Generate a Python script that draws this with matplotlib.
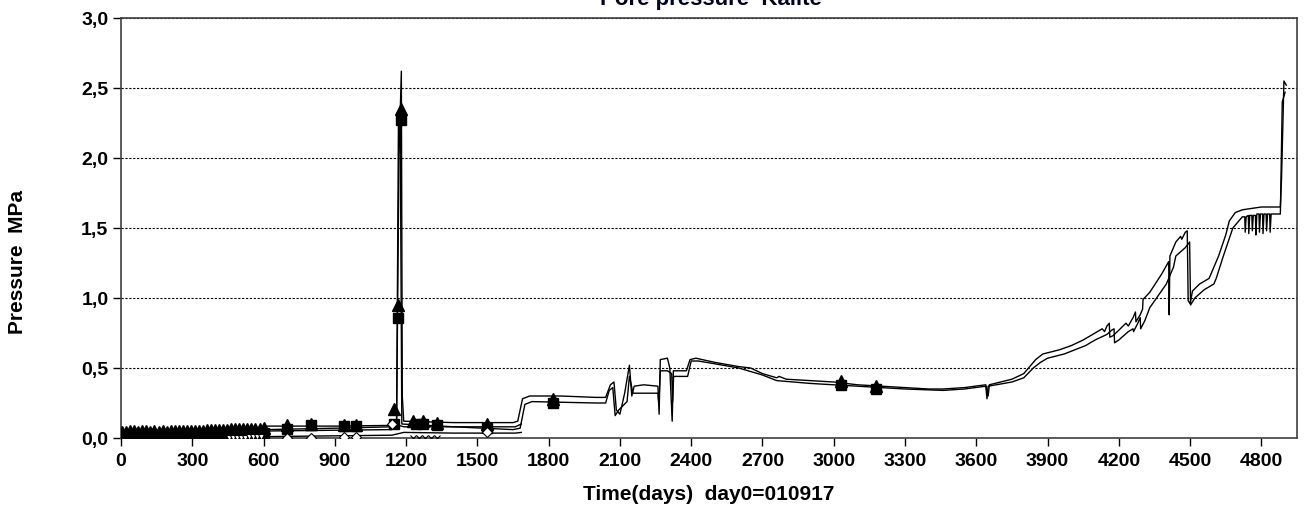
import matplotlib
matplotlib.use("Agg")
import matplotlib.pyplot as plt

plt.rcParams["font.family"] = ["Liberation Sans", "DejaVu Sans"]
plt.rcParams["font.weight"] = "bold"

# upper sensor line
s1_days = [0, 150, 300, 450, 600, 610, 900, 1140, 1160, 1170, 1180, 1184, 1190, 1400, 1650, 1670, 1690, 1720,
           1850, 2000, 2040, 2060, 2075, 2085, 2100, 2120, 2140, 2150, 2160, 2200, 2260, 2265, 2270, 2300, 2310,
           2320, 2325, 2380, 2395, 2420, 2500, 2600, 2650, 2700, 2760, 2770, 2800, 2900, 3000, 3100, 3200, 3300,
           3400, 3460, 3550, 3640, 3650, 3655, 3750, 3800, 3820, 3850, 3880, 3950, 4000, 4050, 4100, 4130, 4140,
           4150, 4160, 4162, 4175, 4200, 4230, 4240, 4260, 4270, 4272, 4290, 4300, 4302, 4330, 4380, 4410, 4412,
           4415, 4440, 4460, 4465, 4480, 4488, 4492, 4500, 4510, 4540, 4560, 4580, 4590, 4620, 4650, 4665, 4690,
           4720, 4800, 4880, 4885, 4895, 4905]
s1_mpa = [0.03, 0.035, 0.04, 0.05, 0.06, 0.085, 0.085, 0.09, 0.12, 2.0, 2.62, 0.3, 0.12, 0.11, 0.11, 0.12, 0.28, 0.30,
          0.30, 0.29, 0.29, 0.38, 0.40, 0.20, 0.17, 0.32, 0.52, 0.30, 0.37, 0.38, 0.37, 0.17, 0.56, 0.57, 0.50,
          0.12, 0.48, 0.48, 0.56, 0.57, 0.54, 0.51, 0.50, 0.46, 0.43, 0.44, 0.42, 0.41, 0.40, 0.38, 0.37, 0.36,
          0.35, 0.35, 0.36, 0.38, 0.30, 0.38, 0.42, 0.46, 0.50, 0.56, 0.60, 0.63, 0.66, 0.70, 0.75, 0.78, 0.76,
          0.80, 0.82, 0.72, 0.73, 0.77, 0.82, 0.80, 0.86, 0.90, 0.83, 0.88, 0.92, 0.99, 1.04, 1.17, 1.26, 0.88,
          1.30, 1.40, 1.44, 1.42, 1.47, 1.48, 0.98, 0.96, 1.05, 1.10, 1.12, 1.14, 1.18, 1.30, 1.45, 1.55, 1.61,
          1.63, 1.65, 1.65, 1.86, 2.55, 2.52]

# lower sensor line
s2_days = [0, 150, 300, 450, 600, 610, 900, 1140, 1160, 1168, 1175, 1182, 1400, 1650, 1680, 1700, 1730, 2000, 2040,
           2055, 2070, 2080, 2095, 2130, 2140, 2155, 2260, 2264, 2270, 2300, 2318, 2322, 2326, 2385, 2400, 2430,
           2500, 2600, 2700, 2760, 2900, 3000, 3100, 3200, 3300, 3460, 3550, 3640, 3645, 3650, 3750, 3800, 3840,
           3870, 3900, 3970, 4000, 4060, 4100, 4150, 4170, 4180, 4182, 4200, 4240, 4260, 4262, 4280, 4290, 4292,
           4310, 4330, 4400, 4430, 4440, 4480, 4498, 4502, 4520, 4560, 4600, 4610, 4640, 4680, 4720,
           4730, 4732, 4736, 4745, 4747, 4751, 4760, 4762, 4766, 4775, 4777, 4781, 4790, 4792, 4796, 4805, 4807,
           4811, 4820, 4822, 4826, 4835, 4837, 4841, 4880, 4888, 4900]
s2_mpa = [0.02, 0.025, 0.03, 0.035, 0.04, 0.06, 0.07, 0.08, 0.1, 2.3, 2.35, 0.1, 0.08, 0.06, 0.07, 0.24, 0.26, 0.25,
          0.25, 0.34, 0.36, 0.16, 0.2, 0.26, 0.44, 0.32, 0.32, 0.24, 0.48, 0.48, 0.46, 0.26, 0.44, 0.44, 0.55,
          0.55, 0.53, 0.50, 0.45, 0.41, 0.39, 0.38, 0.37, 0.36, 0.35, 0.34, 0.35, 0.37, 0.28, 0.37, 0.40, 0.43,
          0.50, 0.54, 0.57, 0.60, 0.62, 0.66, 0.70, 0.74, 0.77, 0.78, 0.68, 0.70, 0.76, 0.78, 0.76, 0.82, 0.86, 0.78,
          0.84, 0.93, 1.10, 1.22, 1.30, 1.36, 1.40, 0.95, 1.00, 1.06, 1.10, 1.14, 1.30, 1.50, 1.58,
          1.58, 1.47, 1.58, 1.59, 1.46, 1.59, 1.59, 1.48, 1.59, 1.59, 1.45, 1.60, 1.60, 1.47, 1.60, 1.60, 1.46,
          1.60, 1.60, 1.48, 1.60, 1.60, 1.47, 1.60, 1.60, 2.40, 2.47]

# two sensors that stop before day 1700
s3_days = [0, 300, 600, 610, 1140, 1150, 1190, 1400, 1660, 1685]
s3_mpa = [0.015, 0.02, 0.03, 0.05, 0.06, 0.1, 0.08, 0.08, 0.08, 0.1]
s4_days = [0, 300, 450, 600, 610, 1140, 1190, 1400, 1660, 1685]
s4_mpa = [0.0, 0.005, 0.005, 0.01, 0.01, 0.02, 0.04, 0.035, 0.035, 0.04]

# filled triangle markers
tri_days = [5, 22, 39, 56, 73, 90, 107, 124, 141, 158, 175, 192, 209, 226, 243, 260, 277, 294, 311, 328,
            345, 362, 379, 396, 413, 430, 447, 464, 481, 498, 515, 532, 549, 566, 583, 600,
            700, 800, 940, 990, 1150, 1166, 1179, 1230, 1270, 1330, 1540, 1820, 3030, 3180]
tri_mpa = [0.045, 0.046, 0.047, 0.047, 0.046, 0.047, 0.048, 0.045, 0.047, 0.046, 0.048, 0.046, 0.048, 0.047,
           0.048, 0.047, 0.05, 0.051, 0.05, 0.052, 0.053, 0.055, 0.054, 0.057, 0.056, 0.059, 0.06, 0.062,
           0.061, 0.064, 0.063, 0.066, 0.065, 0.067, 0.066, 0.068,
           0.09, 0.1, 0.09, 0.09, 0.21, 0.95, 2.35, 0.12, 0.12, 0.11, 0.1, 0.28, 0.41, 0.37]

# filled square markers
sq_days = [5, 22, 39, 56, 73, 90, 107, 124, 141, 158, 175, 192, 209, 226, 243, 260, 277, 294, 311, 328,
           345, 362, 379, 396, 413, 430, 447, 464, 481, 498, 515, 532, 549, 566, 583, 600,
           700, 800, 940, 990, 1150, 1166, 1179, 1240, 1270, 1330, 1540, 1820, 3030, 3180]
sq_mpa = [0.018, 0.019, 0.019, 0.02, 0.02, 0.021, 0.021, 0.021, 0.022, 0.022, 0.023, 0.023, 0.023, 0.024,
          0.024, 0.025, 0.025, 0.026, 0.026, 0.027, 0.027, 0.028, 0.028, 0.029, 0.029, 0.03, 0.031, 0.031,
          0.032, 0.033, 0.033, 0.034, 0.035, 0.035, 0.036, 0.037,
          0.065, 0.093, 0.085, 0.085, 0.1, 0.86, 2.27, 0.1, 0.1, 0.09, 0.07, 0.25, 0.38, 0.35]

# open markers near zero
dia_days = [700, 800, 940, 990, 1140, 1540]
dia_mpa = [0.0, 0.0, 0.01, 0.01, 0.1, 0.04]
vtri_days = [455, 472, 489, 506, 523, 540, 557, 574, 591]
vtri_mpa = [0.002, 0.002, 0.003, 0.003, 0.003, 0.004, 0.004, 0.004, 0.005]
x_days = [1230, 1255, 1280, 1305, 1330]
x_mpa = [0.0, 0.0, 0.0, 0.0, 0.0]

x_ticks = list(range(0, 4801, 300))
y_ticks = [0.0, 0.5, 1.0, 1.5, 2.0, 2.5, 3.0]
y_labels = ["0,0", "0,5", "1,0", "1,5", "2,0", "2,5", "3,0"]

fig = plt.figure(figsize=(13.09, 5.13), dpi=100)
ax = fig.add_axes([121 / 1309, 75 / 513, 1176 / 1309, 420 / 513])

for d, v in [(s4_days, s4_mpa), (s3_days, s3_mpa), (s2_days, s2_mpa), (s1_days, s1_mpa)]:
    ax.plot(d, v, color="black", linewidth=1.0, zorder=3)

ax.plot(tri_days, tri_mpa, linestyle="none", marker="^", color="black", markersize=8, zorder=4)
ax.plot(sq_days, sq_mpa, linestyle="none", marker="s", color="black", markersize=7, zorder=4)
ax.plot(dia_days, dia_mpa, linestyle="none", marker="D", markerfacecolor="white",
        markeredgecolor="black", markersize=5, markeredgewidth=0.8, zorder=4)
ax.plot(vtri_days, vtri_mpa, linestyle="none", marker="v", markerfacecolor="white",
        markeredgecolor="black", markersize=5, markeredgewidth=0.8, zorder=4)
ax.plot(x_days, x_mpa, linestyle="none", marker="x", color="black", markersize=5, markeredgewidth=0.8, zorder=4)

ax.set_xlim(0, 4950)
ax.set_ylim(0, 3.0)
ax.set_xticks(x_ticks)
ax.set_xticklabels([str(t) for t in x_ticks], fontsize=14, fontweight="bold")
ax.set_yticks(y_ticks)
ax.set_yticklabels(y_labels, fontsize=14, fontweight="bold")
ax.tick_params(axis="x", direction="out", length=6, width=1, pad=5)
ax.tick_params(axis="y", direction="out", length=6, width=1, pad=3)
ax.yaxis.grid(True, color="black", linestyle=(0, (2, 1.5)), linewidth=0.8)
for s in ax.spines.values():
    s.set_color("#404040")
    s.set_linewidth(1.2)

ax.set_xlabel("Time(days)  day0=010917", fontsize=15, fontweight="bold")
ax.xaxis.set_label_coords(0.5, -56 / 420 - 0.0, transform=ax.transAxes)
ax.xaxis.label.set_va("center")
ax.set_ylabel("Pressure  MPa", fontsize=15, fontweight="bold")
ax.yaxis.set_label_coords(-103 / 1176, 0.42, transform=ax.transAxes)
ax.yaxis.label.set_va("center")
fig.text(0.543, 1 - 5 / 513, "Pore pressure  Kalite", ha="center", va="baseline",
         fontsize=16, fontweight="bold", color="#000022")

fig.savefig("out.png", dpi=100)
